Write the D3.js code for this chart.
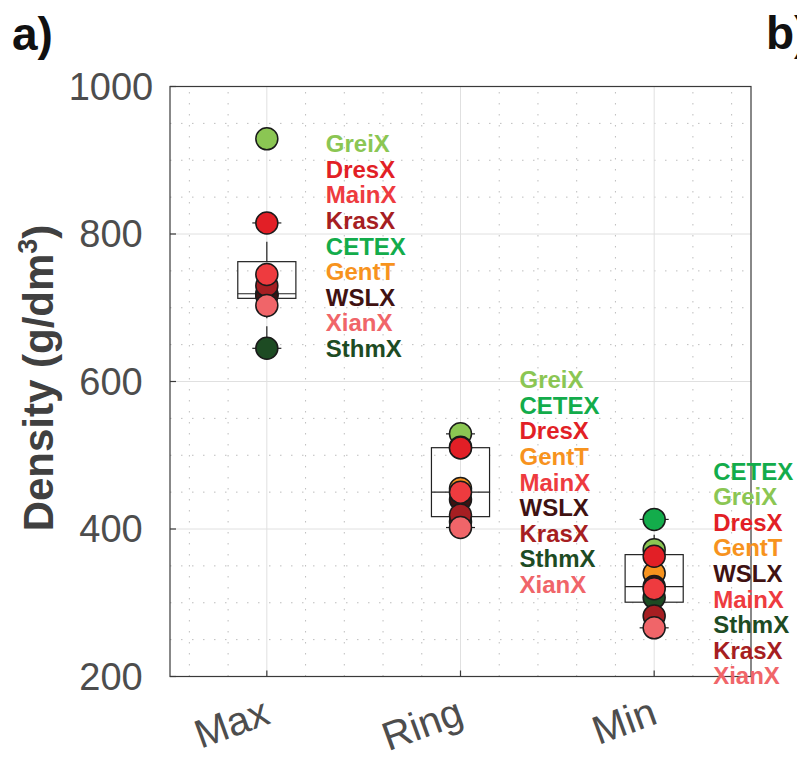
<!DOCTYPE html>
<html>
<head>
<meta charset="utf-8">
<script src="https://cdn.jsdelivr.net/npm/d3@7"></script>
<style>
  body { margin: 0; background: #fff; }
  text { font-family: "Liberation Sans", Arial, Helvetica, sans-serif; }
</style>
</head>
<body>
<svg id="canvas" width="797" height="758"></svg>
<script>
// data (g/dm3), sites listed in drawing order
var categories = ['Max', 'Ring', 'Min'];
var sites = ['GreiX', 'CETEX', 'GentT', 'SthmX', 'WSLX', 'KrasX', 'DresX', 'MainX', 'XianX'];
var siteColors = ['#8bc653', '#13ac4b', '#f7931e', '#1d4b23', '#3f1212', '#a61e22', '#e21f26', '#ee3b3f', '#f06569'];
var maxDensity  = [929, 719, 718, 645, 716, 730, 815, 745, 703];
var ringDensity = [529, 511, 455, 410, 440, 419, 510, 450, 402];
var minDensity  = [372, 413, 340, 307, 322, 282, 363, 319, 266];
var yTicks = [200, 400, 600, 800, 1000];

var series = [maxDensity, ringDensity, minDensity];

// where the name lists start (in density units) and their spacing
var labelTop = [911, 591, 467];
var labelStep = 34.7;

var svg = d3.select('#canvas');
var x = d3.scaleLinear().domain([0.5, 3.5]).range([170, 751]);
var y = d3.scaleLinear().domain([200, 1000]).range([676.5, 86.5]);

// ************************************************************************************************** //
// Grid

var minorX = d3.range(0.6, 3.45, 0.2).filter(d => Math.abs(d - Math.round(d)) > 0.01);
var minorY = d3.range(250, 1000, 50).filter(d => d % 200 != 0);
var grid = svg.append('g');

grid.selectAll('.mx').data(minorX).enter().append('line')
  .attr('x1', d => x(d)).attr('x2', d => x(d)).attr('y1', y(200)).attr('y2', y(1000))
  .style('stroke', '#bdbdbd').style('stroke-dasharray', '1.5,9.5');
grid.selectAll('.my').data(minorY).enter().append('line')
  .attr('x1', x(0.5)).attr('x2', x(3.5)).attr('y1', d => y(d)).attr('y2', d => y(d))
  .style('stroke', '#bdbdbd').style('stroke-dasharray', '1.5,9.5');

grid.selectAll('.gx').data([1, 2, 3]).enter().append('line')
  .attr('x1', d => x(d)).attr('x2', d => x(d)).attr('y1', y(200)).attr('y2', y(1000))
  .style('stroke', '#e0e0e0');
grid.selectAll('.gy').data(yTicks.slice(1, -1)).enter().append('line')
  .attr('x1', x(0.5)).attr('x2', x(3.5)).attr('y1', d => y(d)).attr('y2', d => y(d))
  .style('stroke', '#e0e0e0');

// ************************************************************************************************** //
// Axes

svg.append('rect')
  .attr('x', x(0.5)).attr('y', y(1000)).attr('width', x(3.5) - x(0.5)).attr('height', y(200) - y(1000))
  .style('fill', 'none').style('stroke', '#3a3a3a').style('stroke-width', 1.2);

svg.selectAll('.tx').data([1, 2, 3]).enter().append('line')
  .attr('x1', d => x(d)).attr('x2', d => x(d)).attr('y1', y(200)).attr('y2', y(200) - 6)
  .style('stroke', '#3a3a3a').style('stroke-width', 1.2);
svg.selectAll('.ty').data(yTicks).enter().append('line')
  .attr('x1', x(0.5)).attr('x2', x(0.5) + 6).attr('y1', d => y(d)).attr('y2', d => y(d))
  .style('stroke', '#3a3a3a').style('stroke-width', 1.2);

svg.selectAll('.yl').data(yTicks).enter().append('text')
  .attr('x', 111).attr('y', d => y(d)).attr('dy', '0.35em')
  .attr('text-anchor', 'middle').style('font-size', '38px').style('fill', '#4d4d4d')
  .text(d => d);

svg.selectAll('.xl').data(categories).enter().append('text')
  .attr('transform', (d, i) => 'translate(' + (x(i + 1) + 5) + ',723) rotate(-20)')
  .attr('text-anchor', 'end').style('font-size', '40px').style('fill', '#4d4d4d')
  .text(d => d);

var ylab = svg.append('text')
  .attr('transform', 'translate(53,378) rotate(-90)')
  .attr('text-anchor', 'middle').style('font-size', '42px').style('font-weight', 'bold').style('fill', '#404040');
ylab.append('tspan').text('Density (g/dm');
ylab.append('tspan').attr('dy', -16).style('font-size', '27px').text('3');
ylab.append('tspan').attr('dy', 16).text(')');

svg.append('text').attr('x', 12).attr('y', 50)
  .style('font-size', '46px').style('font-weight', 'bold').style('fill', '#111').text('a)');
svg.append('text').attr('x', 766).attr('y', 49)
  .style('font-size', '46px').style('font-weight', 'bold').style('fill', '#111').text('b)');

// ************************************************************************************************** //
// Box plots (matlab style percentiles, whiskers to 1.5 IQR)

function prctile(s, p){
  var n = s.length;
  var pos = p*n + 0.5;
  if(pos <= 1) return s[0];
  if(pos >= n) return s[n-1];
  var i = Math.floor(pos), f = pos - i;
  return s[i-1] + f*(s[i] - s[i-1]);
}

var boxW = 0.3;
series.forEach(function(vals, i){
  var s = vals.slice().sort(d3.ascending);
  var q1 = prctile(s, 0.25), med = prctile(s, 0.5), q3 = prctile(s, 0.75);
  var iqr = q3 - q1;
  var hi = d3.max(s.filter(d => d <= q3 + 1.5*iqr));
  var lo = d3.min(s.filter(d => d >= q1 - 1.5*iqr));
  var cx = i + 1;
  var g = svg.append('g').style('stroke', '#222').style('stroke-width', 1.2).style('fill', 'none');

  g.append('line').attr('x1', x(cx)).attr('x2', x(cx)).attr('y1', y(q3)).attr('y2', y(hi)).style('stroke-dasharray', '20,8');
  g.append('line').attr('x1', x(cx)).attr('x2', x(cx)).attr('y1', y(q1)).attr('y2', y(lo)).style('stroke-dasharray', '20,8');
  g.append('line').attr('x1', x(cx - boxW/4)).attr('x2', x(cx + boxW/4)).attr('y1', y(hi)).attr('y2', y(hi));
  g.append('line').attr('x1', x(cx - boxW/4)).attr('x2', x(cx + boxW/4)).attr('y1', y(lo)).attr('y2', y(lo));
  g.append('rect').attr('x', x(cx - boxW/2)).attr('width', x(cx + boxW/2) - x(cx - boxW/2))
    .attr('y', y(q3)).attr('height', y(q1) - y(q3));
  g.append('line').attr('x1', x(cx - boxW/2)).attr('x2', x(cx + boxW/2)).attr('y1', y(med)).attr('y2', y(med));
});

// ************************************************************************************************** //
// Site points and name lists

series.forEach(function(vals, i){
  svg.append('g').selectAll('circle').data(vals).enter().append('circle')
    .attr('cx', x(i + 1)).attr('cy', d => y(d)).attr('r', 11)
    .style('fill', (d, j) => siteColors[j]).style('stroke', '#1a1a1a').style('stroke-width', 1.5);

  var order = d3.range(sites.length).sort((a, b) => vals[b] - vals[a]);
  svg.append('g').selectAll('text').data(order).enter().append('text')
    .attr('x', x(i + 1) + 59).attr('y', (d, k) => y(labelTop[i] - k*labelStep))
    .style('font-size', '24px').style('font-weight', 'bold').style('fill', d => siteColors[d])
    .text(d => sites[d]);
});
</script>
</body>
</html>
